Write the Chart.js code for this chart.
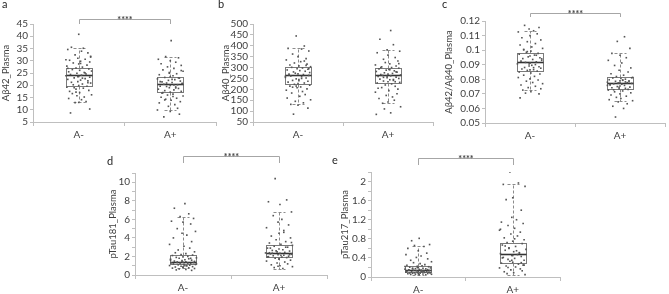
<!DOCTYPE html>
<html lang="en">
<head>
<meta charset="UTF-8">
<title>Plasma biomarkers by amyloid status</title>
<script src="https://cdn.jsdelivr.net/npm/chart.js"></script>
<style>
  body { margin: 0; background: #fff; width: 669px; height: 294px; position: relative; overflow: hidden; }
  canvas { position: absolute; }
</style>
</head>
<body>
<canvas id="pa" width="220" height="145" style="left:0;top:0"></canvas>
<canvas id="pb" width="226" height="145" style="left:216px;top:0"></canvas>
<canvas id="pc" width="229" height="145" style="left:440px;top:0"></canvas>
<canvas id="pd" width="228" height="149" style="left:104px;top:145px"></canvas>
<canvas id="pe" width="239" height="149" style="left:330px;top:145px"></canvas>

<script>
const groups = ['A-', 'A+'];
const groupPos = [0.5, 1.5];

// box stats: [lower whisker, Q1, median, Q3, upper whisker]
const ab42BoxNeg = [13.0, 19.8, 24.1, 27.0, 35.1];
const ab42BoxPos = [9.9, 17.4, 20.4, 23.4, 31.7];
const ab40BoxNeg = [131, 223, 266, 302, 388];
const ab40BoxPos = [136, 229, 266, 300, 381];
const ratioBoxNeg = [0.0726, 0.0855, 0.0916, 0.0983, 0.1133];
const ratioBoxPos = [0.0653, 0.0735, 0.0777, 0.0813, 0.0978];
const tau181BoxNeg = [0.72, 1.15, 1.43, 2.2, 6.3];
const tau181BoxPos = [0.6, 1.9, 2.33, 3.19, 6.8];
const tau217BoxNeg = [0.05, 0.1, 0.145, 0.23, 0.66];
const tau217BoxPos = [0.05, 0.29, 0.48, 0.71, 1.94];

// individual subjects
const ab42Neg = [40.8, 35.5, 35.1, 34.6, 33.9, 33.2, 32.4, 31.8, 31.0, 30.6, 30.2, 29.8, 29.5, 29.1, 28.7, 28.2, 27.8, 27.4, 27.0, 26.7, 26.4, 26.1, 25.8, 25.5, 25.2, 24.9, 24.6, 24.4, 24.1, 23.9, 23.6, 23.3, 23.0, 22.7, 22.4, 22.1, 21.8, 21.5, 21.2, 20.9, 20.5, 20.2, 19.9, 19.6, 19.2, 18.8, 18.4, 17.9, 17.5, 17.0, 16.6, 16.1, 15.7, 15.2, 14.6, 14.1, 13.3, 13.0, 12.9, 10.3, 8.7, 28.9, 30.4, 25.0, 23.5, 21.0, 19.0, 22.9, 26.9, 31.5, 17.2];
const ab42Pos = [38.2, 31.7, 31.2, 30.6, 30.0, 29.4, 28.8, 28.1, 27.5, 26.9, 26.3, 25.7, 25.2, 24.7, 24.3, 23.9, 23.5, 23.2, 22.9, 22.6, 22.3, 22.0, 21.7, 21.4, 21.1, 20.9, 20.6, 20.4, 20.2, 19.9, 19.6, 19.3, 19.0, 18.7, 18.4, 18.1, 17.8, 17.5, 17.2, 16.8, 16.4, 16.0, 15.6, 15.1, 14.7, 14.3, 13.9, 13.3, 12.8, 12.1, 11.4, 10.6, 9.9, 9.3, 8.2, 7.1, 22.4, 20.8, 19.5, 18.9, 21.5, 23.0, 24.9, 15.4, 17.0, 26.0, 14.0, 20.1];
const ab40Neg = [445, 399, 388, 385, 376, 362, 350, 341, 335, 327, 321, 316, 312, 308, 304, 301, 298, 295, 292, 289, 286, 283, 280, 277, 274, 271, 268, 266, 264, 261, 258, 255, 252, 248, 245, 241, 237, 233, 229, 226, 223, 219, 215, 211, 207, 202, 196, 190, 183, 176, 168, 160, 152, 145, 138, 131, 127, 114, 86, 310, 270, 250, 215, 295, 260, 240, 330, 210];
const ab40Pos = [470, 430, 405, 381, 375, 368, 357, 346, 338, 330, 323, 317, 312, 307, 303, 300, 297, 294, 291, 288, 285, 282, 279, 276, 273, 270, 268, 266, 264, 262, 259, 256, 253, 250, 247, 244, 241, 238, 235, 232, 229, 225, 220, 214, 208, 201, 194, 187, 180, 172, 165, 158, 150, 142, 136, 120, 110, 92, 85, 280, 260, 245, 300, 318, 205, 290, 255, 235];
const ratioNeg = [0.117, 0.1155, 0.1145, 0.1133, 0.1125, 0.1112, 0.110, 0.1085, 0.107, 0.1058, 0.1045, 0.1035, 0.1022, 0.1012, 0.1002, 0.0993, 0.0985, 0.0978, 0.0972, 0.0966, 0.096, 0.0954, 0.0948, 0.0942, 0.0936, 0.093, 0.0925, 0.092, 0.0916, 0.0911, 0.0906, 0.0901, 0.0896, 0.0891, 0.0886, 0.0881, 0.0876, 0.0871, 0.0866, 0.0861, 0.0856, 0.085, 0.0843, 0.0836, 0.0828, 0.082, 0.0812, 0.0803, 0.0795, 0.0787, 0.0778, 0.077, 0.0761, 0.0752, 0.0743, 0.0735, 0.0726, 0.0715, 0.0705, 0.070, 0.0672, 0.0965, 0.0905, 0.088, 0.094, 0.099, 0.0865, 0.1005];
const ratioPos = [0.1092, 0.106, 0.1012, 0.0978, 0.0965, 0.0948, 0.093, 0.0912, 0.0895, 0.0878, 0.0862, 0.085, 0.0838, 0.0828, 0.0819, 0.0813, 0.0809, 0.0805, 0.0801, 0.0797, 0.0793, 0.0789, 0.0786, 0.0783, 0.078, 0.0777, 0.0775, 0.0772, 0.0769, 0.0766, 0.0762, 0.0758, 0.0754, 0.075, 0.0746, 0.0742, 0.0738, 0.0735, 0.0731, 0.0726, 0.072, 0.0714, 0.0707, 0.07, 0.0692, 0.0684, 0.0676, 0.0668, 0.066, 0.0653, 0.0645, 0.0632, 0.0615, 0.060, 0.0541, 0.079, 0.0775, 0.0765, 0.0782, 0.0745, 0.081, 0.0728, 0.0795, 0.0758];
const tau181Neg = [7.7, 7.2, 6.6, 6.3, 6.1, 5.8, 5.7, 5.5, 5.0, 4.7, 4.5, 4.3, 4.0, 3.6, 3.3, 3.1, 2.9, 2.7, 2.5, 2.4, 2.3, 2.2, 2.15, 2.1, 2.0, 1.95, 1.9, 1.85, 1.8, 1.75, 1.7, 1.65, 1.6, 1.55, 1.5, 1.47, 1.43, 1.4, 1.37, 1.34, 1.31, 1.28, 1.25, 1.22, 1.19, 1.16, 1.13, 1.1, 1.06, 1.02, 0.98, 0.94, 0.9, 0.86, 0.82, 0.78, 0.74, 0.7, 0.65, 0.6, 0.55, 0.5, 1.45, 1.2, 1.6, 1.0, 1.35, 1.8, 0.85];
const tau181Pos = [10.4, 8.1, 7.9, 7.6, 6.8, 6.4, 6.0, 5.7, 5.4, 5.1, 4.8, 4.5, 4.2, 4.0, 3.8, 3.6, 3.45, 3.3, 3.2, 3.1, 3.0, 2.9, 2.8, 2.72, 2.65, 2.58, 2.5, 2.44, 2.38, 2.33, 2.28, 2.23, 2.18, 2.13, 2.08, 2.03, 1.98, 1.93, 1.88, 1.8, 1.7, 1.6, 1.5, 1.4, 1.3, 1.2, 1.1, 1.0, 0.9, 0.8, 0.7, 2.4, 2.2, 2.6, 3.0, 1.95, 2.1, 2.35, 3.5, 1.75, 2.9, 4.6, 0.95];
const tau217Neg = [0.81, 0.76, 0.68, 0.66, 0.64, 0.6, 0.55, 0.5, 0.47, 0.44, 0.41, 0.38, 0.35, 0.32, 0.3, 0.28, 0.26, 0.245, 0.235, 0.225, 0.215, 0.205, 0.195, 0.19, 0.185, 0.18, 0.175, 0.17, 0.165, 0.16, 0.155, 0.15, 0.145, 0.14, 0.135, 0.13, 0.125, 0.12, 0.117, 0.113, 0.11, 0.107, 0.103, 0.1, 0.097, 0.093, 0.09, 0.087, 0.083, 0.08, 0.077, 0.073, 0.07, 0.067, 0.063, 0.06, 0.057, 0.053, 0.05, 0.045, 0.15, 0.12, 0.2, 0.09, 0.17, 0.11, 0.22, 0.13];
const tau217Pos = [2.2, 1.97, 1.94, 1.9, 1.66, 1.62, 1.4, 1.25, 1.2, 1.15, 1.12, 1.08, 1.02, 0.98, 0.94, 0.9, 0.86, 0.82, 0.78, 0.75, 0.72, 0.7, 0.67, 0.64, 0.61, 0.58, 0.56, 0.53, 0.51, 0.49, 0.47, 0.45, 0.43, 0.41, 0.39, 0.37, 0.35, 0.33, 0.31, 0.29, 0.27, 0.25, 0.23, 0.21, 0.19, 0.17, 0.15, 0.13, 0.11, 0.09, 0.07, 0.05, 0.6, 0.55, 0.45, 0.4, 0.5, 0.35, 0.3, 0.65, 0.8, 1.0, 0.25, 0.2];

// horizontal jitter of each dot, hundredths of a category
const jitAb42Neg = [0,-8,5,-12,3,10,-4,13,-1,7,-10,2,12,-6,0,9,-13,4,-3,11,-7,1,14,-11,6,-2,8,-9,3,-14,0,12,-5,7,-12,2,10,-1,-8,13,4,-6,0,9,-13,5,-3,11,-10,1,-7,14,-2,6,-11,3,8,0,-4,12,-9,2,-14,7,-1,10,-5,4,-12,13,-3];
const jitAb42Pos = [1,-5,9,-13,0,6,-10,12,-3,4,-8,14,-1,7,-12,3,0,-6,10,-14,5,-2,11,-9,2,-4,13,-7,8,0,-11,6,-1,9,-13,4,-6,12,0,-9,3,-3,14,-10,7,-5,1,11,-12,5,-2,8,-14,0,10,-7,2,13,-4,6,-11,9,-1,3,-8,12,-6,4];
const jitAb40Neg = [-2,7,-11,4,12,-6,0,9,-13,3,-4,10,-9,1,14,-7,5,-1,11,-12,2,8,-5,13,-3,0,6,-10,12,-8,4,-14,9,-2,1,-6,11,-11,7,0,-4,13,-9,3,-1,10,-13,5,-7,8,2,-12,14,-3,6,-8,0,11,-5,9,-10,4,-2,12,-14,1,7,-6];
const jitAb40Pos = [3,-9,6,-1,13,-12,0,8,-5,11,-3,2,-14,9,-7,4,12,-10,1,-2,7,-13,10,-4,5,0,-8,14,-6,3,-11,9,-1,12,-9,2,6,-5,0,13,-12,4,-3,8,-7,11,1,-14,10,-2,5,-10,7,0,-6,14,-4,3,-13,9,-1,6,-8,12,-11,2,-5,8];
const jitRatioNeg = [-6,10,-1,4,-13,8,0,-9,12,-3,6,-11,2,14,-7,1,-4,9,-12,5,0,-2,11,-8,3,13,-10,7,-5,0,-14,6,2,-1,10,-6,12,-9,4,-3,8,-12,1,11,-7,5,-13,0,9,-4,3,14,-10,6,-2,12,-8,1,-5,10,-11,7,-1,4,13,-3,0,-7];
const jitRatioPos = [5,-3,11,-9,0,7,-13,2,-6,12,-1,9,-10,4,-4,14,-8,1,6,-12,3,0,-5,10,-14,8,-2,13,-7,2,-11,5,0,-3,11,-9,6,-1,9,-13,3,-6,12,0,-10,7,-4,1,-12,14,-2,8,-8,4,-5,10,0,-11,6,-1,13,-7,3,-14];
const jitTau181Neg = [2,-9,6,-3,11,-12,0,8,-6,13,-1,4,-10,9,-14,1,7,-5,12,-8,3,-2,10,-11,5,0,-7,14,-4,6,-13,2,9,-1,-9,12,3,-6,0,11,-12,5,-3,8,-10,1,13,-5,7,-14,4,-2,10,-8,0,6,-11,12,-4,3,-7,9,-1,14,-13,2,-6,8,0];
const jitTau181Pos = [-4,8,-11,1,13,-6,3,-1,10,-13,5,0,-8,12,-3,7,-10,2,14,-5,9,-12,0,4,-7,11,-2,6,-14,1,-9,13,-1,5,-6,10,-11,3,8,-4,0,12,-13,6,-2,9,-8,1,14,-5,4,-10,11,-3,7,-12,2,-7,13,0,-9,5,-1];
const jitTau217Neg = [1,-7,12,-4,6,-11,0,9,-13,3,-2,10,-8,14,-5,2,7,-12,4,-1,11,-9,0,13,-6,5,-3,8,-14,1,10,-10,3,-5,12,-2,6,-12,0,9,-7,4,-13,11,-1,7,-4,13,-9,2,-6,10,0,-11,5,-3,14,-8,1,8,-10,3,-1,12,-6,6,-14,4];
const jitTau217Pos = [-3,6,-10,13,0,-7,9,-1,4,-12,11,-5,2,-14,8,-2,5,-9,12,0,-6,10,-11,3,-4,14,-8,1,7,-13,5,-1,9,-10,2,-5,12,-3,0,-12,6,11,-7,3,-14,8,-2,10,-9,1,-6,13,-4,4,0,-11,7,-1,9,-8,2,-13,12,-5];

const FONT = 'Lato';
const TEXT = '#404040';
const AXIS = '#bfbfbf';

const boxPlugin = {
  id: 'boxes',
  beforeDatasetsDraw(chart, args, opts) {
    const { ctx, scales: { x, y } } = chart;
    opts.stats.forEach((s, i) => {
      const c = Math.round(x.getPixelForValue(groupPos[i])) + 0.5;
      const hw = Math.round(x.getPixelForValue(groupPos[i] + 0.14) - x.getPixelForValue(groupPos[i]));
      const cw = Math.round(hw * 0.45);
      const [lo, q1, med, q3, hi] = s.map(v => Math.round(y.getPixelForValue(v)) + 0.5);
      ctx.save();
      ctx.strokeStyle = '#8c8c8c';
      ctx.lineWidth = 1;
      ctx.setLineDash([3, 2]);
      ctx.beginPath();
      ctx.moveTo(c, q3); ctx.lineTo(c, hi);
      ctx.moveTo(c, q1); ctx.lineTo(c, lo);
      ctx.moveTo(c - cw, hi); ctx.lineTo(c + cw, hi);
      ctx.moveTo(c - cw, lo); ctx.lineTo(c + cw, lo);
      ctx.stroke();
      ctx.setLineDash([]);
      ctx.strokeStyle = '#7a7a7a';
      ctx.strokeRect(c - hw, q3, hw * 2, q1 - q3);
      ctx.strokeStyle = '#333';
      ctx.lineWidth = 1.6;
      ctx.beginPath();
      ctx.moveTo(c - hw, med); ctx.lineTo(c + hw, med);
      ctx.stroke();
      ctx.restore();
    });
  }
};

const markPlugin = {
  id: 'marks',
  afterDraw(chart, args, opts) {
    const { ctx, scales: { x } } = chart;
    ctx.save();
    ctx.fillStyle = '#262626';
    ctx.font = '11px ' + FONT;
    ctx.textBaseline = 'alphabetic';
    ctx.fillText(opts.letter, opts.letterX, opts.letterY);
    if (opts.bracketY != null) {
      const x0 = Math.round(x.getPixelForValue(groupPos[0])) + 0.5;
      const x1 = Math.round(x.getPixelForValue(groupPos[1])) + 0.5;
      const by = opts.bracketY + 0.5;
      ctx.strokeStyle = '#a6a6a6';
      ctx.lineWidth = 1;
      ctx.beginPath();
      ctx.moveTo(x0, opts.legY); ctx.lineTo(x0, by); ctx.lineTo(x1, by); ctx.lineTo(x1, opts.legY);
      ctx.stroke();
      ctx.fillStyle = TEXT;
      ctx.font = 'bold 9px ' + FONT;
      ctx.textAlign = 'center';
      ctx.fillText('****', (x0 + x1) / 2, by + 3);
    }
    ctx.restore();
  }
};

function points(values, jitter, center) {
  return values.map((v, i) => ({ x: center + jitter[i % jitter.length] / 100, y: v }));
}

function makePanel(id, p) {
  const dot = { pointStyle: 'rect', pointRadius: 1.15, pointBackgroundColor: '#555555', pointBorderWidth: 0, showLine: false };
  new Chart(document.getElementById(id), {
    type: 'scatter',
    data: {
      datasets: [
        Object.assign({ label: groups[0], data: points(p.neg, p.jitNeg, groupPos[0]) }, dot),
        Object.assign({ label: groups[1], data: points(p.pos, p.jitPos, groupPos[1]) }, dot)
      ]
    },
    options: {
      responsive: false,
      animation: false,
      events: [],
      layout: { padding: { top: p.top, right: p.right, left: 0, bottom: 0 } },
      plugins: {
        legend: { display: false },
        tooltip: { enabled: false },
        boxes: { stats: p.boxes },
        marks: p.marks
      },
      scales: {
        x: {
          type: 'linear', min: 0, max: 2,
          afterBuildTicks: s => { s.ticks = [0, 0.5, 1, 1.5, 2].map(v => ({ value: v })); },
          afterFit: s => { s.height = p.xh; },
          border: { color: AXIS },
          grid: {
            drawOnChartArea: false, tickLength: 4,
            color: c => (c.tick && c.tick.value % 1 === 0) ? AXIS : 'rgba(0,0,0,0)'
          },
          ticks: {
            autoSkip: false, maxRotation: 0, padding: 3, color: TEXT,
            font: { family: FONT, size: 10 },
            callback: v => v === 0.5 ? groups[0] : v === 1.5 ? groups[1] : ''
          }
        },
        y: {
          min: p.min, max: p.max,
          afterFit: s => { s.width = p.yw; },
          border: { color: AXIS },
          grid: { drawOnChartArea: false, tickLength: 3, color: AXIS },
          ticks: {
            stepSize: p.step, autoSkip: false, padding: 2, color: TEXT,
            font: { family: FONT, size: 10 },
            callback: p.label
          },
          title: {
            display: true, text: p.title, color: TEXT,
            font: { family: FONT, size: 9.5 },
            padding: { top: p.tp, bottom: 0 }
          }
        }
      }
    },
    plugins: [boxPlugin, markPlugin]
  });
}

const fmt = v => String(parseFloat(v.toFixed(4)));

makePanel('pa', {
  neg: ab42Neg, pos: ab42Pos, jitNeg: jitAb42Neg, jitPos: jitAb42Pos, boxes: [ab42BoxNeg, ab42BoxPos],
  min: 5, max: 45, step: 5, label: fmt, title: 'Aβ42_Plasma',
  top: 24, right: 3, xh: 23, yw: 33, tp: 0,
  marks: { letter: 'a', letterX: 2, letterY: 8, bracketY: 19, legY: 24 }
});
makePanel('pb', {
  neg: ab40Neg, pos: ab40Pos, jitNeg: jitAb40Neg, jitPos: jitAb40Pos, boxes: [ab40BoxNeg, ab40BoxPos],
  min: 50, max: 500, step: 50, label: fmt, title: 'Aβ40_Plasma',
  top: 24, right: 9, xh: 23, yw: 37, tp: 4,
  marks: { letter: 'b', letterX: 2, letterY: 8 }
});
makePanel('pc', {
  neg: ratioNeg, pos: ratioPos, jitNeg: jitRatioNeg, jitPos: jitRatioPos, boxes: [ratioBoxNeg, ratioBoxPos],
  min: 0.05, max: 0.12, step: 0.01, label: fmt, title: 'Aβ42/Aβ40_Plasma',
  top: 21, right: 2, xh: 22, yw: 45, tp: 3,
  marks: { letter: 'c', letterX: 2, letterY: 8, bracketY: 13, legY: 17 }
});
makePanel('pd', {
  neg: tau181Neg, pos: tau181Pos, jitNeg: jitTau181Neg, jitPos: jitTau181Pos, boxes: [tau181BoxNeg, tau181BoxPos],
  min: 0, max: 11, step: 1, label: v => (Math.round(v) % 2 === 0 ? fmt(v) : ''), title: 'pTau181_Plasma',
  top: 28, right: 5, xh: 19, yw: 31, tp: 3,
  marks: { letter: 'd', letterX: 3, letterY: 20, bracketY: 11, legY: 18 }
});
makePanel('pe', {
  neg: tau217Neg, pos: tau217Pos, jitNeg: jitTau217Neg, jitPos: jitTau217Pos, boxes: [tau217BoxNeg, tau217BoxPos],
  min: 0, max: 2.2, step: 0.2, label: v => (Math.round(v * 10) % 4 === 0 ? fmt(v) : ''), title: 'pTau217_Plasma',
  top: 27, right: 9, xh: 17, yw: 41, tp: 9,
  marks: { letter: 'e', letterX: 2, letterY: 19, bracketY: 13, legY: 20 }
});
</script>
</body>
</html>
